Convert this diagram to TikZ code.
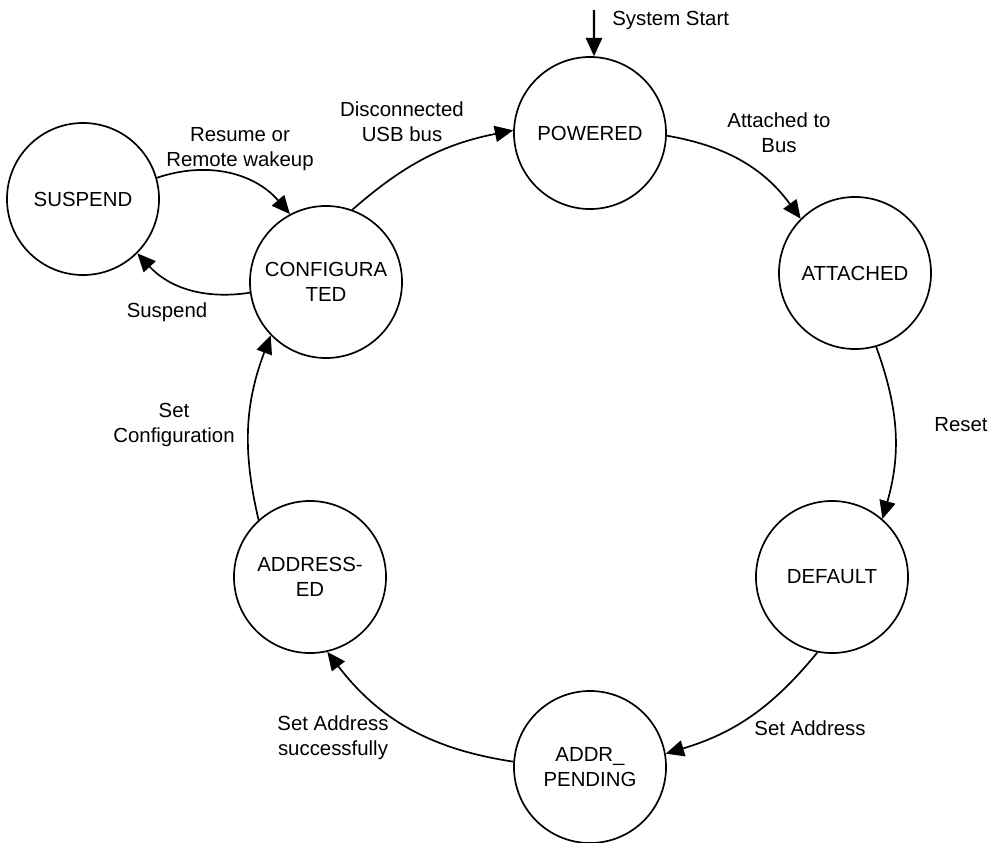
\documentclass[tikz,border=0pt]{standalone}
\usepackage{fontspec}
\setmainfont{Liberation Sans}
\usetikzlibrary{arrows.meta}
\newcommand{\dfont}{\fontsize{14.5}{17.8}\selectfont}
\tikzset{
  state/.style={circle, draw, line width=1.2pt, minimum size=3.8cm, inner sep=0pt, align=center, font=\dfont},
  trans/.style={-{Triangle[length=13pt,width=11.5pt]}, line width=1.2pt},
  lbl/.style={align=center, inner sep=0pt, font=\dfont}
}

\begin{document}
\begin{tikzpicture}[x=0.025cm,y=-0.025cm]
  \useasboundingbox (0,0) rectangle (993,842);
  \node[state] (suspend) at (83,199) {SUSPEND};
  \node[state] (config) at (326,282) {CONFIGURA\\TED};
  \node[state] (powered) at (590,133) {POWERED};
  \node[state] (attached) at (855,273) {ATTACHED};
  \node[state] (default) at (832,577) {DEFAULT};
  \node[state] (pending) at (590,767) {ADDR\_\\PENDING};
  \node[state] (addressed) at (310,577) {ADDRESS-\\ED};

  \coordinate (start) at (594,10);
  \draw[trans, line width=1.6pt] (start) -- (powered.87);
  \draw[trans] (config.70) to[bend left=15] (powered.178);
  \draw[trans] (powered.358) to[bend left=22] (attached.135);
  \draw[trans] (attached.286) to[bend left=18] (default.49);
  \draw[trans] (default.259) to[bend left=17] (pending.10);
  \draw[trans] (pending.176) to[bend left=22] (addressed.283);
  \draw[trans] (addressed.132) to[bend left=17] (config.224);
  \draw[trans] (suspend.16) to[bend left=34] (config.118);
  \draw[trans] (config.188) to[bend left=28] (suspend.315);

  \node[lbl, anchor=west] (lstart) at (612,20) {System Start};
  \node[lbl] (ldisc) at (402,122) {Disconnected\\USB bus};
  \node[lbl] (lattach) at (779,133) {Attached to\\Bus};
  \node[lbl] (lreset) at (961,425) {Reset};
  \node[lbl] (lsetaddr) at (810,728) {Set Address};
  \node[lbl] (lsuccess) at (333,738) {Set Address\\successfully};
  \node[lbl] (lsetconf) at (174,425) {Set\\Configuration};
  \node[lbl] (lresume) at (240,149) {Resume or\\Remote wakeup};
  \node[lbl] (lsuspend) at (167,312) {Suspend};
\end{tikzpicture}
\end{document}
